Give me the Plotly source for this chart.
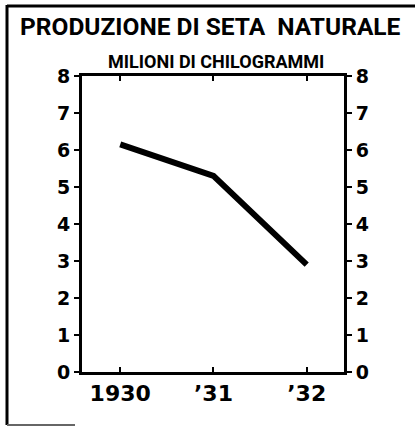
import plotly.graph_objects as go

# dati
years = ["1930", "’31", "’32"]
production = [6.15, 5.3, 2.9]  # milioni di kg
y_ticks = [0, 1, 2, 3, 4, 5, 6, 7, 8]

title_text = "PRODUZIONE DI SETA  NATURALE"
subtitle_text = "MILIONI DI CHILOGRAMMI"

W, H = 415, 426
L, R, T, B = 82, 71, 76, 54  # margini -> area del grafico


def px(x):
    # pixel orizzontale -> coordinate paper
    return (x - L) / (W - L - R)


def py(y):
    return (H - B - y) / (H - T - B)


xs = list(range(len(years)))
fig = go.Figure()
fig.add_trace(go.Scatter(x=xs, y=production, mode="lines",
                         line=dict(color="black", width=6), hoverinfo="skip"))
# traccia invisibile per l'asse destro
fig.add_trace(go.Scatter(x=xs, y=production, yaxis="y2", mode="lines",
                         line=dict(color="rgba(0,0,0,0)"), hoverinfo="skip"))

tick_font = dict(family="DejaVu Sans", size=19, color="black", weight="bold")
axis_common = dict(range=[0, 8], tickvals=y_ticks, showgrid=False, zeroline=False,
                   showline=True, linecolor="black", linewidth=3,
                   ticks="outside", ticklen=5, tickwidth=2, tickcolor="black",
                   tickfont=tick_font, fixedrange=True)

fig.update_layout(
    width=W, height=H,
    margin=dict(l=L, r=R, t=T, b=B),
    paper_bgcolor="white", plot_bgcolor="white",
    showlegend=False,
    font=dict(family="DejaVu Sans", color="black"),
    xaxis=dict(range=[-0.41, 2.4], tickvals=xs, ticktext=years,
               showgrid=False, zeroline=False, showline=True, mirror="ticks",
               linecolor="black", linewidth=3, ticks="inside", ticklen=5,
               tickwidth=2, tickcolor="black", fixedrange=True,
               tickfont=dict(family="DejaVu Sans", size=22, color="black", weight="bold")),
    yaxis=dict(side="left", **axis_common),
    yaxis2=dict(side="right", overlaying="y", **axis_common),
    annotations=[
        dict(text=title_text, x=px(210), y=py(27), xref="paper", yref="paper",
             showarrow=False, xanchor="center", yanchor="middle",
             font=dict(family="Roboto", size=24.5, color="black", weight="bold")),
        dict(text=subtitle_text, x=px(216), y=py(62), xref="paper", yref="paper",
             showarrow=False, xanchor="center", yanchor="middle",
             font=dict(family="Roboto", size=18, color="black", weight="bold")),
    ],
    shapes=[
        # cornice della pagina scansionata
        dict(type="line", xref="paper", yref="paper", x0=px(7), x1=px(7),
             y0=py(5), y1=py(425), line=dict(color="black", width=3)),
        dict(type="line", xref="paper", yref="paper", x0=px(7), x1=px(415),
             y0=py(6), y1=py(6), line=dict(color="black", width=3)),
        dict(type="line", xref="paper", yref="paper", x0=px(7), x1=px(75),
             y0=py(425), y1=py(425), line=dict(color="#666", width=2)),
    ],
)

fig.write_html("out.html", config={"displayModeBar": False},
               post_script="document.body.style.margin='0';")
